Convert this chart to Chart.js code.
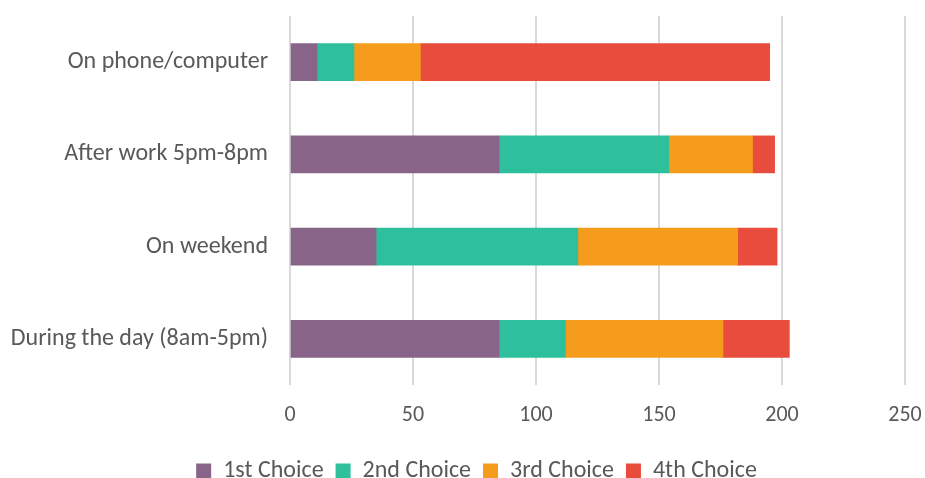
<!DOCTYPE html>
<html>
<head>
<meta charset="utf-8">
<script src="https://cdn.jsdelivr.net/npm/chart.js@4"></script>
<style>
    html, body { margin: 0; padding: 0; background: #ffffff; }
    #wrap { width: 925px; height: 478px; position: relative; }
</style>
</head>
<body>
<div id="wrap"><canvas id="choiceChart"></canvas></div>
<script>
const categories = ['On phone/computer', 'After work 5pm-8pm', 'On weekend', 'During the day (8am-5pm)'];
const seriesNames = ['1st Choice', '2nd Choice', '3rd Choice', '4th Choice'];
const firstChoice = [11, 85, 35, 85];
const secondChoice = [15, 69, 82, 27];
const thirdChoice = [27, 34, 65, 64];
const fourthChoice = [142, 9, 16, 27];
const xTicks = [0, 50, 100, 150, 200, 250];

const colors = ['#886489', '#2ec09c', '#f59c1d', '#e74c3c'];
const textColor = '#595959';
const fontFamily = 'Carlito, Calibri, Lato, sans-serif';

const seriesValues = [firstChoice, secondChoice, thirdChoice, fourthChoice];

// legend in the original sits a bit right of the plot centre
const legendShift = {
    id: 'legendShift',
    afterLayout(chart) {
        chart.legend.left += 24;
        chart.legend.right += 24;
    }
};

document.addEventListener('DOMContentLoaded', () => {
    const ctx = document.getElementById('choiceChart');
    new Chart(ctx, {
        type: 'bar',
        data: {
            labels: categories,
            datasets: seriesNames.map((name, i) => ({
                label: name,
                data: seriesValues[i],
                backgroundColor: colors[i],
                borderWidth: 0,
                barThickness: 37
            }))
        },
        options: {
            indexAxis: 'y',
            responsive: true,
            maintainAspectRatio: false,
            animation: false,
            layout: { padding: { top: 16, right: 20, bottom: -15, left: 0 } },
            plugins: {
                tooltip: { enabled: false },
                legend: {
                    position: 'bottom',
                    labels: {
                        color: textColor,
                        font: { family: fontFamily, size: 24 },
                        boxWidth: 15,
                        boxHeight: 15,
                        padding: 12
                    }
                }
            },
            scales: {
                x: {
                    stacked: true,
                    min: xTicks[0],
                    max: xTicks[xTicks.length - 1],
                    afterBuildTicks: (axis) => { axis.ticks = xTicks.map(v => ({ value: v })); },
                    afterFit: (axis) => {
                        axis.height = 62;
                        axis.paddingLeft = 0;
                        axis.paddingRight = 0;
                    },
                    grid: { color: '#d9d9d9', lineWidth: 2, drawTicks: false },
                    border: { display: false },
                    ticks: {
                        color: textColor,
                        font: { family: fontFamily, size: 22 },
                        padding: 17
                    }
                },
                y: {
                    stacked: true,
                    grid: { display: false, drawTicks: false },
                    border: { display: false },
                    afterFit: (axis) => {
                        axis.width = 290;
                        axis.paddingTop = 0;
                        axis.paddingBottom = 0;
                    },
                    ticks: {
                        color: textColor,
                        font: { family: fontFamily, size: 24 },
                        padding: 22
                    }
                }
            }
        },
        plugins: [legendShift]
    });
});
</script>
</body>
</html>
